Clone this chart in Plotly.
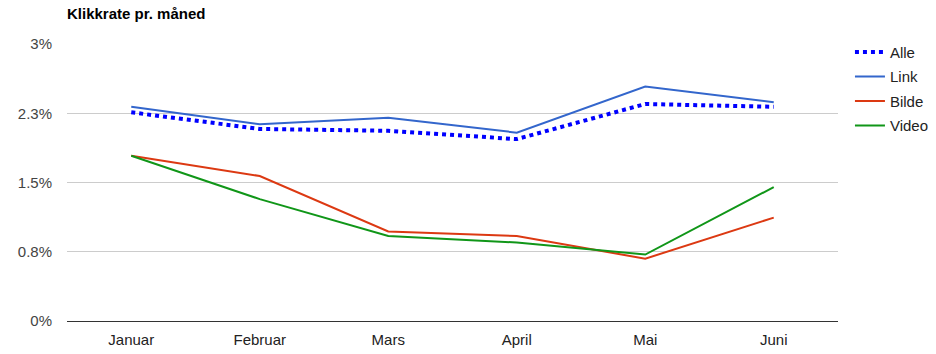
import plotly.graph_objects as go

months = ["Januar", "Februar", "Mars", "April", "Mai", "Juni"]
alle = [2.26, 2.08, 2.06, 1.97, 2.35, 2.32]
link = [2.32, 2.13, 2.20, 2.04, 2.54, 2.37]
bilde = [1.79, 1.57, 0.97, 0.92, 0.675, 1.12]
video = [1.79, 1.32, 0.92, 0.85, 0.72, 1.45]

tick_vals = [0, 0.75, 1.5, 2.25, 3]
tick_text = ["0%", "0.8%", "1.5%", "2.3%", "3%"]

font = "Arial, Liberation Sans, sans-serif"

fig = go.Figure()
series = [
    ("Alle", alle, "#0000ff", 4, "dot"),
    ("Link", link, "#3366cc", 2, "solid"),
    ("Bilde", bilde, "#dc3912", 2, "solid"),
    ("Video", video, "#109618", 2, "solid"),
]
for name, vals, color, w, dash in series:
    fig.add_trace(go.Scatter(
        x=months, y=vals, name=name, mode="lines",
        line=dict(color=color, width=w, dash=dash),
        legendgroup=name,
    ))

fig.update_layout(
    width=936, height=354,
    margin=dict(l=67, r=98, t=44, b=33, autoexpand=False),
    plot_bgcolor="white", paper_bgcolor="white",
    font=dict(family=font, size=15, color="#222"),
    title=dict(text="<b>Klikkrate pr. måned</b>", x=67/936, xanchor="left",
               y=1 - 14/354, yanchor="middle", font=dict(size=15, color="#000")),
    xaxis=dict(range=[-0.5, 5.5], showgrid=False, ticks="", showline=False,
               tickfont=dict(color="#222", size=15), zeroline=False, fixedrange=True,
               ticklabelstandoff=8),
    yaxis=dict(range=[0, 3], tickvals=tick_vals, ticktext=tick_text,
               gridcolor="#cccccc", gridwidth=1, zeroline=True, zerolinecolor="#333333",
               zerolinewidth=1, tickfont=dict(color="#444", size=15), ticks="",
               ticklen=0, fixedrange=True, ticklabelstandoff=14),
    legend=dict(x=1.0155, y=1.03, xanchor="left", yanchor="top",
                font=dict(size=15, color="#222"), tracegroupgap=2,
                itemwidth=30, bgcolor="rgba(0,0,0,0)"),
    showlegend=True,
)

fig.write_html("out.html")
